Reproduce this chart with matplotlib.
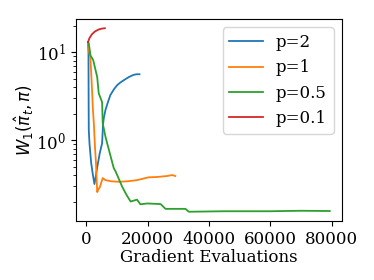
import numpy as np
import matplotlib
matplotlib.use("Agg")
import matplotlib.pyplot as plt

plt.rcParams['font.family'] = 'DejaVu Serif'
plt.rcParams['font.size'] = 12

# p=2
evals_p2 = [500, 650, 700, 750, 1000, 1530, 2100, 2600, 3000, 3500, 4300, 5100,
            5400, 5650, 6200, 7000, 7800, 9000, 10000, 11000, 12200, 13800, 15300, 16300, 17300]
w1_p2 = [13, 10, 3.0, 1.3, 0.9, 0.55, 0.4, 0.316, 0.38, 0.49, 0.7, 0.92,
         1.5, 1.78, 2.2, 2.7, 3.25, 3.8, 4.2, 4.5, 4.8, 5.2, 5.5, 5.6, 5.6]

# p=1
evals_p1 = [500, 900, 1300, 1850, 2100, 2400, 2800, 3100, 3500, 4000, 4350, 5300, 6200,
            8000, 10000, 11100, 13500, 16500, 20300, 23000, 26300, 28000, 29000]
w1_p1 = [13, 10, 8.5, 3.5, 2.2, 1.56, 0.8, 0.55, 0.256, 0.28, 0.29, 0.37, 0.35,
         0.34, 0.336, 0.336, 0.34, 0.35, 0.377, 0.38, 0.39, 0.40, 0.39]

# p=0.5
evals_p05 = [500, 750, 1300, 2200, 3500, 4000, 5100, 5300, 6200, 7600, 8900, 9500,
             11650, 13000, 14400, 16500, 17600, 19800, 24200, 25800, 32300, 33400,
             45000, 60000, 70000, 79400]
w1_p05 = [13, 12.6, 9.2, 8.1, 5.2, 3.4, 2.7, 1.55, 1.09, 0.71, 0.48, 0.44,
          0.295, 0.24, 0.2, 0.21, 0.186, 0.19, 0.187, 0.165, 0.165, 0.153,
          0.155, 0.155, 0.157, 0.156]

# p=0.1
evals_p01 = [500, 1000, 1800, 2800, 4000, 5000, 6000]
w1_p01 = [13, 14.5, 16.0, 17.2, 18.1, 18.5, 18.7]

fig = plt.figure(figsize=(3.74, 2.8), dpi=100)
ax = fig.add_axes([0.203, 0.211, 0.711, 0.721])

ax.plot(evals_p2, w1_p2, color='tab:blue', lw=1.3, label='p=2')
ax.plot(evals_p1, w1_p1, color='tab:orange', lw=1.3, label='p=1')
ax.plot(evals_p05, w1_p05, color='tab:green', lw=1.3, label='p=0.5')
ax.plot(evals_p01, w1_p01, color='tab:red', lw=1.3, label='p=0.1')

ax.set_yscale('log')
ax.set_xticks([0, 20000, 40000, 60000, 80000])
ax.set_xlabel('Gradient Evaluations', labelpad=1)
ax.set_ylabel(r'$W_1(\hat{\pi}_t, \pi)$', labelpad=0)
ax.legend(loc='upper right')

fig.savefig('out.png', dpi=100)
